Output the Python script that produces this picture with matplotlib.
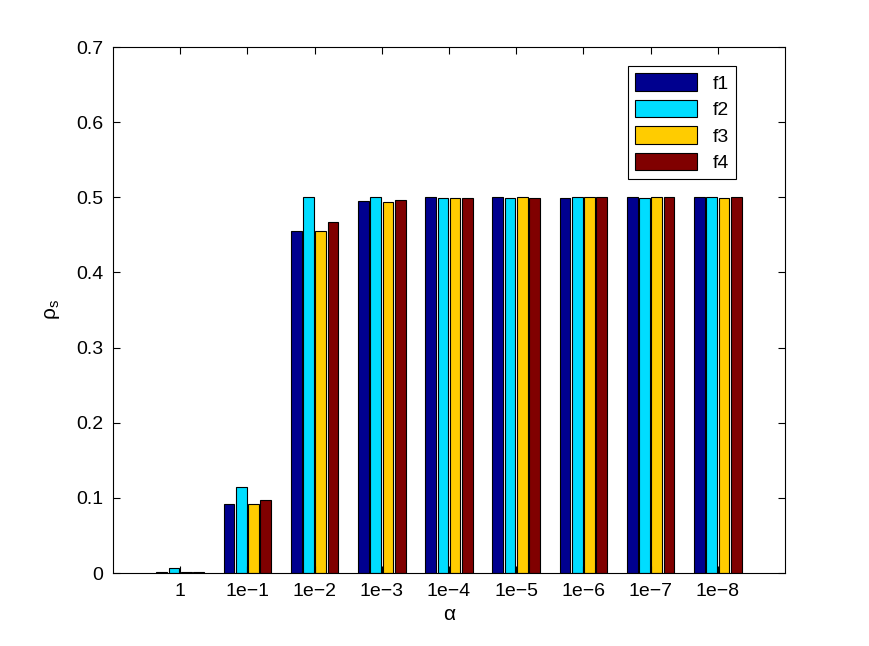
import numpy as np
import matplotlib.pyplot as plt

plt.rcParams['font.family'] = ['Liberation Sans', 'DejaVu Sans']

alphas = ['1', '1e\u22121', '1e\u22122', '1e\u22123', '1e\u22124', '1e\u22125', '1e\u22126', '1e\u22127', '1e\u22128']
f1 = [0.001, 0.092, 0.455, 0.495, 0.500, 0.500, 0.499, 0.500, 0.500]
f2 = [0.006, 0.115, 0.500, 0.500, 0.499, 0.499, 0.500, 0.499, 0.500]
f3 = [0.001, 0.092, 0.455, 0.494, 0.499, 0.500, 0.500, 0.500, 0.499]
f4 = [0.001, 0.097, 0.467, 0.496, 0.499, 0.499, 0.500, 0.500, 0.500]
series = {'f1': f1, 'f2': f2, 'f3': f3, 'f4': f4}
colors = ['#00008F', '#00DDFF', '#FFCC00', '#800000']

fig = plt.figure(figsize=(8.69, 6.46), dpi=100)
ax = fig.add_axes([113/869, 1 - 573/646, (785-113)/869, (573-47)/646])

x = np.arange(1, len(alphas) + 1)
slot = 0.182
for i, (name, vals) in enumerate(series.items()):
    ax.bar(x + (i - 1.5) * slot, vals, width=slot * 0.88, color=colors[i],
           edgecolor='black', linewidth=0.8, label=name)

ax.set_xlim(0, 10)
ax.set_ylim(0, 0.7)
ax.set_xticks(x)
ax.set_xticklabels(alphas)
ax.set_yticks(np.arange(0, 0.71, 0.1))
ax.set_yticklabels(['0', '0.1', '0.2', '0.3', '0.4', '0.5', '0.6', '0.7'])
ax.tick_params(direction='in', top=True, right=True, labelsize=14, length=5, pad=7)
for s in ax.spines.values():
    s.set_linewidth(0.8)

ax.set_xlabel('\u03b1', fontsize=15, labelpad=4)
ax.set_ylabel('\u03c1$_\\mathregular{s}$', fontsize=15, labelpad=10)

leg = ax.legend(loc='upper right', bbox_to_anchor=((736-113)/672, (573-66)/526),
                fontsize=14, fancybox=False, framealpha=1, edgecolor='black',
                handlelength=3.2, handleheight=1.03, handletextpad=0.8,
                borderpad=0.36, labelspacing=0.36, borderaxespad=0)
leg.get_frame().set_linewidth(0.8)

fig.savefig('out.png', dpi=100)
